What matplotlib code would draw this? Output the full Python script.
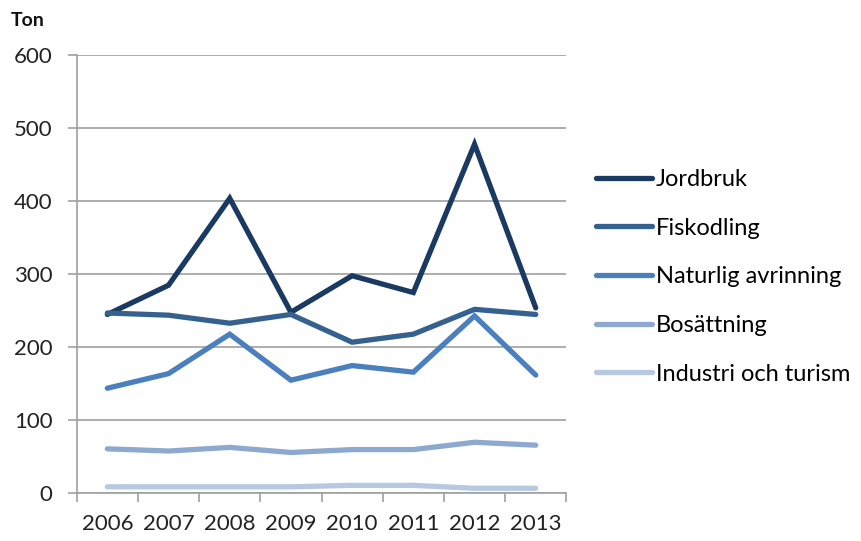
import matplotlib.pyplot as plt

plt.rcParams['font.family'] = ['Lato', 'DejaVu Sans']

years = ["2006", "2007", "2008", "2009", "2010", "2011", "2012", "2013"]
jordbruk = [245, 285, 404, 248, 298, 275, 478, 254]
fiskodling = [247, 244, 233, 245, 207, 218, 252, 245]
naturlig = [144, 164, 218, 155, 175, 166, 243, 162]
bosattning = [61, 58, 63, 56, 60, 60, 70, 66]
industri = [9, 9, 9, 9, 11, 11, 7, 7]

series = [
    ("Jordbruk", jordbruk, "#1a3a62"),
    ("Fiskodling", fiskodling, "#35618f"),
    ("Naturlig avrinning", naturlig, "#4a80bd"),
    ("Bosättning", bosattning, "#8ea9d0"),
    ("Industri och turism", industri, "#b7c8e2"),
]

fig = plt.figure(figsize=(8.62, 5.41), dpi=100)
ax = fig.add_axes([0.089, 0.088, 0.568, 0.810])

x = list(range(len(years)))
for name, vals, color in series:
    ax.plot(x, vals, color=color, lw=3.8, label=name, solid_capstyle="round",
            solid_joinstyle="miter")

ax.set_xlim(-0.5, 7.5)
ax.set_ylim(0, 600)
ax.set_yticks(range(0, 601, 100))
ax.yaxis.grid(True, color="#a0a0a0", lw=1.2)
ax.set_axisbelow(True)

ax.set_xticks([i - 0.5 for i in range(len(years) + 1)])
ax.set_xticklabels([])
ax.set_xticks(x, minor=True)
ax.set_xticklabels(years, minor=True)
ax.tick_params(axis="x", which="major", length=6.5, color="#a0a0a0", width=1.2)
ax.tick_params(axis="x", which="minor", length=0, pad=15, labelsize=16, labelcolor="#222222")
ax.tick_params(axis="y", length=6.5, color="#a0a0a0", width=1.2, pad=11, labelsize=16,
               labelcolor="#222222")

for side in ["top", "right"]:
    ax.spines[side].set_visible(False)
for side in ["left", "bottom"]:
    ax.spines[side].set_color("#a0a0a0")
    ax.spines[side].set_linewidth(1.2)

fig.text(0.012, 0.952, "Ton", fontsize=14, fontweight="bold", color="#111111")

fig.legend(loc="upper left", bbox_to_anchor=(0.68, 0.705), frameon=False,
           fontsize=17, handlelength=2.4, handletextpad=0.15, labelspacing=1.17,
           borderaxespad=0)

fig.savefig("out.png", dpi=100)
